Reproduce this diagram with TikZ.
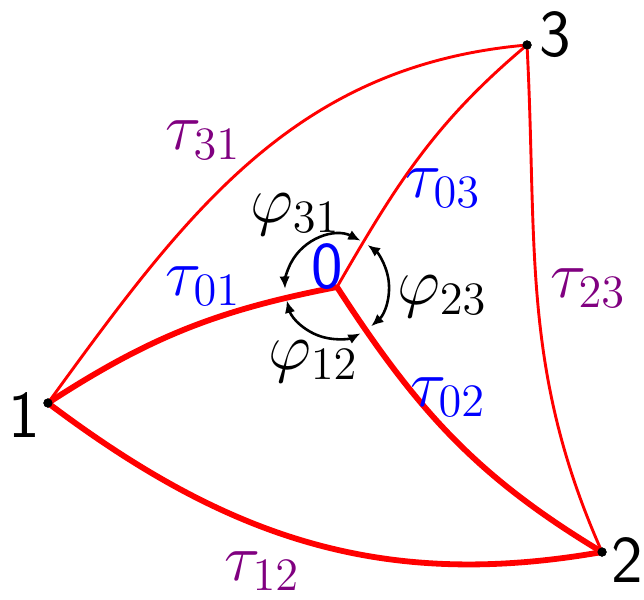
\documentclass[tikz,border=0pt]{standalone}
\usetikzlibrary{arrows.meta}

\begin{document}
\begin{tikzpicture}[
    x=0.0109cm, y=0.0109cm,
    font=\huge,
    edge/.style={red, line width=0.9pt},
    bigedge/.style={red, line width=1.8pt},
    vdot/.style={circle, fill=black, inner sep=0pt, minimum size=1mm},
    vlab/.style={inner sep=0pt, font=\huge\sffamily},
    tlab/.style={inner sep=0pt},
    ang/.style={{Latex[length=1.35mm,width=1.15mm]}-{Latex[length=1.35mm,width=1.15mm]}, line width=0.8pt}
  ]
    \useasboundingbox (0,0) rectangle (644,599);
    \coordinate (v0) at (337,312);
    \node[vdot] (v1) at (48,196) {};
    \node[vdot] (v2) at (602,47) {};
    \node[vdot] (v3) at (527,554) {};

    % thin edges
    \draw[edge] (v1.center) to[out=54, in=185] (v3.center);
    \draw[edge] (v0) to[out=60, in=220] (v3.center);
    \draw[edge] (v2.center) to[out=114, in=-87] (v3.center);
    % thick edges
    \draw[bigedge] (v0) to[out=191, in=33] (v1.center);
    \draw[bigedge] (v0) to[out=-57, in=149] (v2.center);
    \draw[bigedge] (v1.center) to[out=-37, in=190] (v2.center);
    \node[vdot] at (v1) {};
    \node[vdot] at (v2) {};
    \node[vdot] at (v3) {};

    % angles round 0
    \draw[ang] ([shift={(63:52)}]v0) arc[start angle=63, end angle=182, radius=52];
    \draw[ang] ([shift={(195:52)}]v0) arc[start angle=195, end angle=297, radius=52];
    \draw[ang] ([shift={(311:52)}]v0) arc[start angle=311, end angle=414, radius=52];

    % vertex labels
    \node[vlab, blue] (l0) at (327,332) {0};
    \node[vlab] (l1) at (24,184) {1};
    \node[vlab] (l2) at (627,39) {2};
    \node[vlab] (l3) at (555,564) {3};

    % edge labels
    \node[tlab, violet] (t31) at (203,459) {$\tau_{31}$};
    \node[tlab, blue] (t03) at (443,411) {$\tau_{03}$};
    \node[tlab, blue] (t01) at (203,313) {$\tau_{01}$};
    \node[tlab, blue] (t02) at (448,202) {$\tau_{02}$};
    \node[tlab, violet] (t23) at (588,311) {$\tau_{23}$};
    \node[tlab, violet] (t12) at (262,28) {$\tau_{12}$};
    \node[tlab] (p31) at (295,384) {$\varphi_{31}$};
    \node[tlab] (p23) at (442,302) {$\varphi_{23}$};
    \node[tlab] (p12) at (313,237) {$\varphi_{12}$};
  \end{tikzpicture}
\end{document}
